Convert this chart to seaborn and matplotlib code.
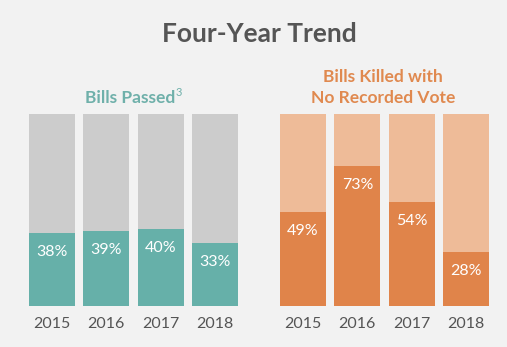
import matplotlib
matplotlib.use("Agg")
import matplotlib.pyplot as plt
import seaborn as sns
import pandas as pd

years = ["2015", "2016", "2017", "2018"]
passed = [38, 39, 40, 33]
killed = [49, 73, 54, 28]
full = [100, 100, 100, 100]

BG = "#f2f2f2"
GRAY = "#cccccc"
TEAL = "#66b0a9"
ORANGE = "#e0844a"
LORANGE = "#eebb98"
DARK = "#555555"

sns.set_theme(style="white")
plt.rcParams["font.family"] = ["Lato", "DejaVu Sans"]

W, H = 507, 347
fig = plt.figure(figsize=(W / 100, H / 100), dpi=100, facecolor=BG)

def px_axes(x0, x1, ytop, ybot):
    return fig.add_axes([x0 / W, (H - ybot) / H, (x1 - x0) / W, (ybot - ytop) / H])

ax1 = px_axes(29, 238, 114, 306)
ax2 = px_axes(280, 489, 114, 306)

df = pd.DataFrame({"year": years, "passed": passed, "killed": killed, "full": full})

for ax, col, back, front in [(ax1, "passed", GRAY, TEAL), (ax2, "killed", LORANGE, ORANGE)]:
    ax.set_facecolor(BG)
    sns.barplot(data=df, x="year", y="full", color=back, width=0.847, ax=ax,
                saturation=1, linewidth=0)
    sns.barplot(data=df, x="year", y=col, color=front, width=0.847, ax=ax,
                saturation=1, linewidth=0)
    for i, v in enumerate(df[col]):
        ax.annotate(f"{v}%", (i, v), xytext=(0, -19), textcoords="offset pixels",
                    ha="center", va="center", color="white", fontsize=11.5)
    ax.set_xlim(-0.4235, 3.4235)
    ax.set_ylim(0, 100)
    ax.set_xlabel("")
    ax.set_ylabel("")
    ax.set_yticks([])
    ax.tick_params(axis="x", length=0, pad=8, labelsize=11.5, labelcolor=DARK)
    for s in ax.spines.values():
        s.set_visible(False)

fig.text(259 / W, 1 - 34 / H, "Four-Year Trend", ha="center", va="center",
         fontsize=19, fontweight="bold", color=DARK)

t = fig.text(130 / W, 1 - 98 / H, "Bills Passed", ha="center", va="center",
             fontsize=12.5, fontweight="bold", color="#6fb0aa")
fig.canvas.draw()
bb = t.get_window_extent()
fig.text(bb.x1 / W, 1 - 92 / H, "3", ha="left", va="center",
         fontsize=8, color="#6fb0aa")

fig.text(383 / W, 1 - 77 / H, "Bills Killed with", ha="center", va="center",
         fontsize=12.5, fontweight="bold", color="#e0894f")
fig.text(383 / W, 1 - 98 / H, "No Recorded Vote", ha="center", va="center",
         fontsize=12.5, fontweight="bold", color="#e0894f")

fig.savefig("out.png", dpi=100, facecolor=BG)
